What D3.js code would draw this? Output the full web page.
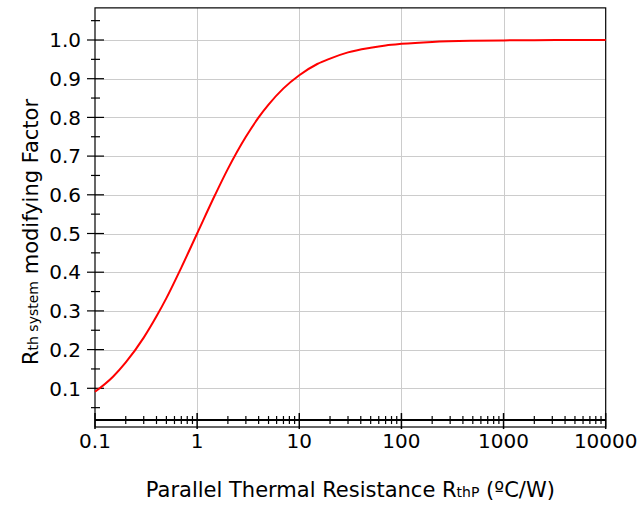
<!DOCTYPE html>
<html>
<head>
<meta charset="utf-8">
<script src="https://cdn.jsdelivr.net/npm/d3@7"></script>
<style>
  html, body { margin: 0; padding: 0; background: #fff; }
  svg { display: block; font-family: "DejaVu Sans", Verdana, sans-serif; }
</style>
</head>
<body>
<svg id="chart" width="640" height="506"></svg>
<script>
// values
var rthP   = [0.1, 0.15, 0.2, 0.3, 0.4, 0.5, 0.7, 1, 1.5, 2, 3, 4, 5, 7, 10, 15, 20, 30, 50, 70, 100, 200, 500, 1000, 2000, 5000, 10000];
var factor = [0.091, 0.13, 0.167, 0.231, 0.286, 0.333, 0.412, 0.5, 0.6, 0.667, 0.75, 0.8, 0.833, 0.875, 0.909, 0.938, 0.952, 0.968, 0.98, 0.986, 0.99, 0.995, 0.998, 0.999, 0.9995, 0.9998, 0.9999];
var xTicks = [0.1, 1, 10, 100, 1000, 10000];
var xTickLabels = ["0.1", "1", "10", "100", "1000", "10000"];
var yTicks = [0.1, 0.2, 0.3, 0.4, 0.5, 0.6, 0.7, 0.8, 0.9, 1.0];

var svg = d3.select("#chart");

var x = d3.scaleLog().domain([0.1, 10000]).range([95, 605.7]);
var y = d3.scaleLinear().domain([0, 1]).range([427, 40]);
var yTop = 1.083, yAxisAt = 0.018;

// minor ticks
var xMinor = [];
for (var d = 0.1; d < 10000; d *= 10)
  for (var k = 2; k <= 9; k++) xMinor.push(d * k);
var yMinor = d3.range(0.05, 1.1, 0.1);

// grid
var grid = svg.append("g").attr("stroke", "#cccccc").attr("stroke-width", 1);
grid.selectAll("line.h").data(yTicks).enter().append("line")
  .attr("x1", x(0.1)).attr("x2", x(10000))
  .attr("y1", function(d){ return Math.round(y(d)) + 0.5; })
  .attr("y2", function(d){ return Math.round(y(d)) + 0.5; });
grid.selectAll("line.v").data(xTicks.slice(1, -1)).enter().append("line")
  .attr("y1", y(yTop)).attr("y2", y(yAxisAt))
  .attr("x1", function(d){ return Math.round(x(d)) + 0.5; })
  .attr("x2", function(d){ return Math.round(x(d)) + 0.5; });

// frame
svg.append("rect")
  .attr("x", x(0.1)).attr("y", y(yTop))
  .attr("width", x(10000) - x(0.1)).attr("height", y(0) - y(yTop))
  .attr("fill", "none").attr("stroke", "#000").attr("stroke-width", 1.2);

// x axis line (thick) with ticks
svg.append("line")
  .attr("x1", x(0.1)).attr("x2", x(10000))
  .attr("y1", y(yAxisAt)).attr("y2", y(yAxisAt))
  .attr("stroke", "#000").attr("stroke-width", 2);

var ax = y(yAxisAt);
svg.append("g").selectAll("line").data(xMinor).enter().append("line")
  .attr("x1", function(d){ return x(d); }).attr("x2", function(d){ return x(d); })
  .attr("y1", ax - 4).attr("y2", ax + 4)
  .attr("stroke", "#000").attr("stroke-width", 1.2);
svg.append("g").selectAll("line").data(xTicks).enter().append("line")
  .attr("x1", function(d){ return x(d); }).attr("x2", function(d){ return x(d); })
  .attr("y1", ax - 7).attr("y2", ax + 9)
  .attr("stroke", "#000").attr("stroke-width", 1.5);

// y ticks
svg.append("g").selectAll("line").data(yTicks).enter().append("line")
  .attr("x1", x(0.1) - 8).attr("x2", x(0.1) + 9)
  .attr("y1", function(d){ return y(d); }).attr("y2", function(d){ return y(d); })
  .attr("stroke", "#000").attr("stroke-width", 1.2);
svg.append("g").selectAll("line").data(yMinor).enter().append("line")
  .attr("x1", x(0.1) - 4).attr("x2", x(0.1) + 5)
  .attr("y1", function(d){ return y(d); }).attr("y2", function(d){ return y(d); })
  .attr("stroke", "#000").attr("stroke-width", 1.2);

// tick labels
svg.append("g").selectAll("text").data(yTicks).enter().append("text")
  .attr("x", 81).attr("y", function(d){ return y(d); })
  .attr("dy", "0.36em").attr("text-anchor", "end")
  .attr("font-size", 20).attr("fill", "#000")
  .text(function(d){ return d.toFixed(1); });
svg.append("g").selectAll("text").data(xTicks).enter().append("text")
  .attr("x", function(d){ return x(d); }).attr("y", 448)
  .attr("text-anchor", "middle")
  .attr("font-size", 20).attr("fill", "#000")
  .text(function(d, i){ return xTickLabels[i]; });

// curve
var pts = rthP.map(function(v, i){ return [v, factor[i]]; });
svg.append("path").datum(pts)
  .attr("fill", "none").attr("stroke", "#ff0000").attr("stroke-width", 2)
  .attr("d", d3.line()
    .x(function(d){ return x(d[0]); })
    .y(function(d){ return y(d[1]); })
    .curve(d3.curveMonotoneX));

// axis titles
var xt = svg.append("text")
  .attr("x", (x(0.1) + x(10000)) / 2).attr("y", 497)
  .attr("text-anchor", "middle").attr("font-size", 21).attr("fill", "#000");
xt.append("tspan").text("Parallel Thermal Resistance R");
xt.append("tspan").attr("font-size", 14).text("thP");
xt.append("tspan").text(" (ºC/W)");

var yt = svg.append("text")
  .attr("transform", "translate(38," + 232 + ") rotate(-90)")
  .attr("text-anchor", "middle").attr("font-size", 21).attr("fill", "#000");
yt.append("tspan").text("R");
yt.append("tspan").attr("font-size", 14).text("th system");
yt.append("tspan").text(" modifying Factor");
</script>
</body>
</html>
